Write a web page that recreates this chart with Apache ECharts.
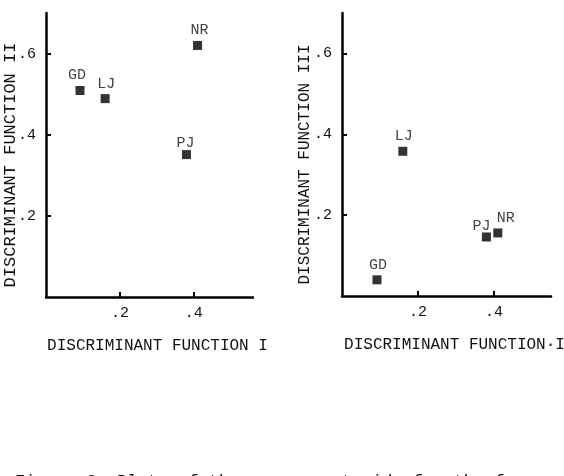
<!DOCTYPE html>
<html lang="en">
<head>
    <meta charset="UTF-8">
    <title>Discriminant functions</title>
    <script src="https://cdn.jsdelivr.net/npm/echarts@6/dist/echarts.min.js"></script>
    <style>
        html, body { margin: 0; padding: 0; background: #fff; }
    </style>
</head>
<body>
    <div id="box" style="width: 564px; height: 476px;"></div>
</body>
<script>
    // group centroids
    var groups = ['GD', 'LJ', 'PJ', 'NR']
    var func1 = [0.092, 0.160, 0.380, 0.410]
    var func2 = [0.509, 0.489, 0.351, 0.620]
    var func3 = [0.040, 0.358, 0.146, 0.156]
    var xTicks = [0.2, 0.4]
    var yTicks = [0.2, 0.4, 0.6]
    var tickText = { 0.2: '.2', 0.4: '.4', 0.6: '.6' }

    var font = 'Liberation Mono'
    var ink = '#111'

    // label nudges per panel (style only)
    var nudgeLeft = { GD: [-3, 0], LJ: [1, 0], PJ: [-1, 3], NR: [2, 0] }
    var nudgeRight = { GD: [1, 0], LJ: [1, 0], PJ: [-5, 4], NR: [8, 0] }

    function points(ys, nudge) {
        var out = []
        for (var i = 0; i < groups.length; i++) {
            out.push({
                name: groups[i],
                value: [func1[i], ys[i]],
                label: { offset: nudge[groups[i]] }
            })
        }
        return out
    }

    function xAxis(idx, max, name) {
        return {
            type: 'value', gridIndex: idx, min: 0, max: max,
            splitLine: { show: false },
            axisLine: { lineStyle: { color: '#000', width: 2.5 } },
            axisTick: { inside: true, length: 5, lineStyle: { color: '#000', width: 2 }, customValues: xTicks },
            axisLabel: {
                customValues: xTicks, margin: 9,
                fontFamily: font, fontSize: 15, color: ink,
                formatter: function (v) { return tickText[v] }
            },
            name: name, nameLocation: 'middle', nameGap: 41, nameMoveOverlap: false,
            nameTextStyle: { fontFamily: font, fontSize: 16, color: ink, padding: [0, 0, 0, 16] }
        }
    }

    function yAxis(idx, name, size, gap) {
        return {
            type: 'value', gridIndex: idx, min: 0, max: 0.7,
            splitLine: { show: false },
            axisLine: { lineStyle: { color: '#000', width: 2.5 } },
            axisTick: { inside: true, length: 5, lineStyle: { color: '#000', width: 2 }, customValues: yTicks },
            axisLabel: {
                customValues: yTicks, margin: 10,
                fontFamily: font, fontSize: 15, color: ink,
                formatter: function (v) { return tickText[v] }
            },
            name: name, nameLocation: 'middle', nameGap: gap, nameMoveOverlap: false,
            nameTextStyle: { fontFamily: font, fontSize: size, color: ink, padding: [0, 20, 0, 0] }
        }
    }

    function scatter(idx, ys, nudge) {
        return {
            type: 'scatter', xAxisIndex: idx, yAxisIndex: idx,
            symbol: 'rect', symbolSize: 9,
            itemStyle: { color: '#000' },
            label: {
                show: true, position: 'top', distance: 3,
                formatter: '{b}', fontFamily: font, fontSize: 15, color: ink
            },
            data: points(ys, nudge)
        }
    }

    var mEcharts = echarts.init(document.querySelector('#box'))
    var option = {
        animation: false,
        grid: [
            { left: 46, top: 13, width: 207, height: 284, outerBoundsMode: 'none' },
            { left: 342, top: 13, width: 209, height: 283, outerBoundsMode: 'none' }
        ],
        xAxis: [
            xAxis(0, 0.56, 'DISCRIMINANT FUNCTION I'),
            xAxis(1, 0.55, 'DISCRIMINANT FUNCTION·I')
        ],
        yAxis: [
            yAxis(0, 'DISCRIMINANT FUNCTION II', 17, 27),
            yAxis(1, 'DISCRIMINANT FUNCTION III', 16, 29)
        ],
        series: [
            scatter(0, func2, nudgeLeft),
            scatter(1, func3, nudgeRight)
        ],
        graphic: [{
            type: 'text', left: 15, top: 473,
            style: {
                text: 'Figure 3. Plots of the group centroids for the four',
                font: '17px "Liberation Mono"', fill: ink
            }
        }]
    }
    mEcharts.setOption(option)
</script>
</html>
